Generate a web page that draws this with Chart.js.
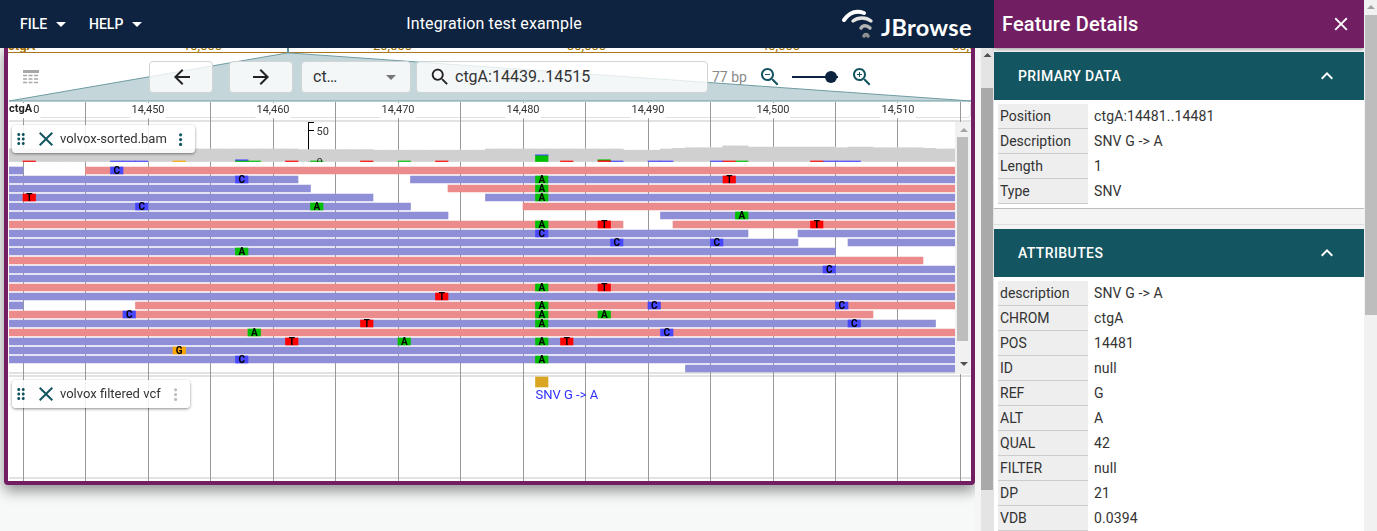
<!DOCTYPE html>
<html>
<head>
<meta charset="utf-8">
<title>JBrowse</title>
<script src="https://cdn.jsdelivr.net/npm/chart.js@4/dist/chart.umd.js"></script>
<style>
  html, body { margin: 0; padding: 0; width: 1377px; height: 531px; overflow: hidden; background: #f7f8f8; font-family: Roboto, sans-serif; color: #333; }
  .abs { position: absolute; }
  .abs svg, svg.abs { display: block; }
  #header { left: 0; top: 0; width: 994px; height: 48px; background: #0d233f; color: #fff; z-index: 5; }
  #view { left: 4px; top: 44px; width: 963px; height: 433px; background: #fff; border: 4px solid #721e63; border-radius: 4px; box-shadow: 0 6px 14px rgba(0,0,0,.42); }
  .ov { top: 38px; font-size: 13px; color: #a06e00; }
  .btn { background: rgba(255,255,255,.8); border: 1px solid #cfd4d5; border-radius: 4px; box-sizing: border-box; top: 61px; height: 32px; }
  .sep { left: 9px; width: 962px; height: 2px; background: #e2e2e2; }
  .card { background: rgba(255,255,255,.85); border-radius: 4px; box-shadow: 0 1px 3px rgba(0,0,0,.45); z-index: 3; font-size: 13px; line-height: 28px; height: 28px; }
  canvas { position: absolute; }
  .sect { left: 994px; width: 370px; height: 48px; background: #135560; color: #fff; font-size: 14px; font-weight: 500; letter-spacing: .4px; line-height: 48px; text-indent: 24px; }
  .k { left: 998px; width: 90px; height: 24px; background: #eee; border-bottom: 1px solid #ccc; font-size: 14px; line-height: 24px; text-indent: 2px; }
  .v { left: 1094px; height: 24px; font-size: 14px; line-height: 24px; letter-spacing: .12px; }
</style>
</head>
<body>
<div class="abs" id="view"></div>

<!-- overview strip -->
<div class="abs ov" style="left:8px;font-weight:700">ctgA</div>
<div class="abs ov" style="left:183px">10,000</div>
<div class="abs ov" style="left:373px">20,000</div>
<div class="abs ov" style="left:567px">30,000</div>
<div class="abs ov" style="left:761px">40,000</div>
<div class="abs ov" style="left:952px">50,000</div>
<div class="abs" style="left:8px;top:52px;width:963px;height:1px;background:#a9761a"></div>
<div class="abs" style="left:971px;top:48px;width:4px;height:6px;background:#721e63"></div>
<div class="abs" style="left:287px;top:47px;width:2px;height:6px;background:#5f9199"></div>
<svg class="abs" style="left:0;top:0" width="994" height="110">
  <polygon points="287,53 290,53 971,101 9,101" fill="#c4d6d9" stroke="#6f9ca3" stroke-width="1"/>
</svg>

<!-- toolbar -->
<svg class="abs" style="left:23px;top:70px" width="17" height="15">
  <rect x="0" y="0" width="16" height="3" fill="#a8a8a8"/>
  <path d="M0 5.5h16M0 9h16M0 12.5h16" stroke="#a8a8a8" stroke-width="1.4" stroke-dasharray="4 1.5"/>
</svg>
<div class="abs btn" style="left:149px;width:64px">
  <svg class="abs" style="left:19.5px;top:3px" width="24" height="24"><path fill="#222" d="M20 11H7.83l5.59-5.59L12 4l-8 8 8 8 1.41-1.41L7.83 13H20v-2z"/></svg>
</div>
<div class="abs btn" style="left:229px;width:64px">
  <svg class="abs" style="left:19px;top:3px" width="24" height="24"><path fill="#222" d="M12 4l-1.41 1.41L16.17 11H4v2h12.17l-5.58 5.59L12 20l8-8z"/></svg>
</div>
<div class="abs btn" style="left:301px;width:110px;font-size:16px;line-height:30px;text-indent:11px;color:#333">ct…
  <svg class="abs" style="left:77px;top:3px" width="24" height="24"><path fill="#777" d="M7 10l5 5 5-5z"/></svg>
</div>
<div class="abs btn" style="left:416px;width:292px;font-size:16px;line-height:30px;text-indent:38px;color:#333">ctgA:14439..14515
  <svg class="abs" style="left:11px;top:3px" width="24" height="24"><path fill="#222" transform="translate(1,1) scale(.92)" d="M15.5 14h-.79l-.28-.27C15.41 12.59 16 11.11 16 9.5 16 5.91 13.09 3 9.5 3S3 5.91 3 9.5 5.91 16 9.5 16c1.61 0 3.09-.59 4.23-1.57l.27.28v.79l5 4.99L20.49 19l-4.99-5zm-6 0C7.01 14 5 11.99 5 9.5S7.01 5 9.5 5 14 7.01 14 9.5 11.99 14 9.5 14z"/></svg>
</div>
<div class="abs" style="left:712px;top:68px;font-size:14px;line-height:18px;color:#8a8a8a">77 bp</div>
<svg class="abs" style="left:758px;top:65px" width="24" height="24"><path fill="#135560" d="M15.5 14h-.79l-.28-.27C15.41 12.59 16 11.11 16 9.5 16 5.91 13.09 3 9.5 3S3 5.91 3 9.5 5.91 16 9.5 16c1.61 0 3.09-.59 4.23-1.57l.27.28v.79l5 4.99L20.49 19l-4.99-5zm-6 0C7.01 14 5 11.99 5 9.5S7.01 5 9.5 5 14 7.01 14 9.5 11.99 14 9.5 14zM7 9h5v1H7z"/></svg>
<div class="abs" style="left:792px;top:76px;width:46px;height:2px;background:#0d233f"></div>
<div class="abs" style="left:825px;top:71px;width:12px;height:12px;border-radius:6px;background:#0d233f"></div>
<svg class="abs" style="left:850px;top:65px" width="24" height="24"><path fill="#135560" d="M15.5 14h-.79l-.28-.27C15.41 12.59 16 11.11 16 9.5 16 5.91 13.09 3 9.5 3S3 5.91 3 9.5 5.91 16 9.5 16c1.61 0 3.09-.59 4.23-1.57l.27.28v.79l5 4.99L20.49 19l-4.99-5zm-6 0C7.01 14 5 11.99 5 9.5S7.01 5 9.5 5 14 7.01 14 9.5 11.99 14 9.5 14zM12 10h-2v2H9v-2H7V9h2V7h1v2h2v1z"/></svg>

<!-- ruler box and track separators -->
<div class="abs" style="left:9px;top:102px;width:961px;height:15px;border-bottom:1px solid #e0e0e0;border-right:1px solid #e0e0e0;border-radius:0 4px 4px 0"></div>
<div class="abs sep" style="top:120px"></div>
<div class="abs sep" style="top:372px"></div>
<div class="abs sep" style="top:375px"></div>
<div class="abs sep" style="top:477px"></div>

<canvas id="pileup" style="left:9px;top:102px"></canvas>
<canvas id="coverage" style="left:9px;top:122px"></canvas>

<div class="abs" style="left:9px;top:103px;width:24px;height:13px;background:#fff;font-size:11px;font-weight:700;line-height:12px;color:#222;z-index:2">ctgA</div>

<!-- pileup scrollbar -->
<div class="abs" style="left:955px;top:122px;width:16px;height:252px;background:#f1f1f1;z-index:2"></div>
<div class="abs" style="left:957px;top:137px;width:11px;height:204px;background:#bdbdbd;z-index:2"></div>
<svg class="abs" style="left:955px;top:122px;z-index:2" width="16" height="252">
  <path d="M9 6l4 4H5z" fill="#a3a3a3"/><path d="M5 240h8l-4 4z" fill="#505050"/>
</svg>

<!-- track labels -->
<div class="abs card" style="left:12px;top:125px;width:183px">
  <svg class="abs" style="left:-2px;top:2px" width="24" height="24"><path fill="#135560" d="M11 18c0 1.1-.9 2-2 2s-2-.9-2-2 .9-2 2-2 2 .9 2 2zm-2-8c-1.1 0-2 .9-2 2s.9 2 2 2 2-.9 2-2-.9-2-2-2zm0-6c-1.1 0-2 .9-2 2s.9 2 2 2 2-.9 2-2-.9-2-2-2zm6 4c1.1 0 2-.9 2-2s-.9-2-2-2-2 .9-2 2 .9 2 2 2zm0 2c-1.1 0-2 .9-2 2s.9 2 2 2 2-.9 2-2-.9-2-2-2zm0 6c-1.1 0-2 .9-2 2s.9 2 2 2 2-.9 2-2-.9-2-2-2z" transform="translate(2,3) scale(.75)"/></svg>
  <svg class="abs" style="left:22px;top:2px" width="24" height="24"><path fill="#135560" d="M19 6.41L17.59 5 12 10.59 6.41 5 5 6.41 10.59 12 5 17.59 6.41 19 12 13.41 17.59 19 19 17.59 13.41 12z"/></svg>
  <span class="abs" style="left:48px;top:0;white-space:nowrap">volvox-sorted.bam</span>
  <svg class="abs" style="left:157px;top:2px" width="24" height="24"><path fill="#135560" transform="translate(2,3) scale(.8)" d="M12 8c1.1 0 2-.9 2-2s-.9-2-2-2-2 .9-2 2 .9 2 2 2zm0 2c-1.1 0-2 .9-2 2s.9 2 2 2 2-.9 2-2-.9-2-2-2zm0 6c-1.1 0-2 .9-2 2s.9 2 2 2 2-.9 2-2-.9-2-2-2z"/></svg>
</div>
<div class="abs card" style="left:12px;top:380px;width:178px">
  <svg class="abs" style="left:-2px;top:2px" width="24" height="24"><path fill="#135560" d="M11 18c0 1.1-.9 2-2 2s-2-.9-2-2 .9-2 2-2 2 .9 2 2zm-2-8c-1.1 0-2 .9-2 2s.9 2 2 2 2-.9 2-2-.9-2-2-2zm0-6c-1.1 0-2 .9-2 2s.9 2 2 2 2-.9 2-2-.9-2-2-2zm6 4c1.1 0 2-.9 2-2s-.9-2-2-2-2 .9-2 2 .9 2 2 2zm0 2c-1.1 0-2 .9-2 2s.9 2 2 2 2-.9 2-2-.9-2-2-2zm0 6c-1.1 0-2 .9-2 2s.9 2 2 2 2-.9 2-2-.9-2-2-2z" transform="translate(2,3) scale(.75)"/></svg>
  <svg class="abs" style="left:22px;top:2px" width="24" height="24"><path fill="#135560" d="M19 6.41L17.59 5 12 10.59 6.41 5 5 6.41 10.59 12 5 17.59 6.41 19 12 13.41 17.59 19 19 17.59 13.41 12z"/></svg>
  <span class="abs" style="left:48px;top:0;white-space:nowrap">volvox filtered vcf</span>
  <svg class="abs" style="left:152px;top:2px" width="24" height="24"><path fill="#bdbdbd" transform="translate(2,3) scale(.8)" d="M12 8c1.1 0 2-.9 2-2s-.9-2-2-2-2 .9-2 2 .9 2 2 2zm0 2c-1.1 0-2 .9-2 2s.9 2 2 2 2-.9 2-2-.9-2-2-2zm0 6c-1.1 0-2 .9-2 2s.9 2 2 2 2-.9 2-2-.9-2-2-2z"/></svg>
</div>

<!-- app header -->
<div class="abs" id="header">
  <div class="abs" style="left:20px;top:0;font-size:14px;font-weight:500;line-height:48px">FILE</div>
  <svg class="abs" style="left:49px;top:12px" width="24" height="24"><path fill="#fff" d="M7 10l5 5 5-5z"/></svg>
  <div class="abs" style="left:89px;top:0;font-size:14px;font-weight:500;line-height:48px">HELP</div>
  <svg class="abs" style="left:125px;top:12px" width="24" height="24"><path fill="#fff" d="M7 10l5 5 5-5z"/></svg>
  <div class="abs" style="left:350px;width:288px;top:0;text-align:center;font-size:16px;line-height:48px;letter-spacing:.13px">Integration test example</div>
  <svg class="abs" style="left:838px;top:6px" width="40" height="36" fill="none" stroke-linecap="round">
    <path d="M6 14 C 11 7, 18 4, 26 7" stroke="#fff" stroke-width="4"/>
    <path d="M15 15 C 20 11, 28 11, 33 15" stroke="#e4e4e4" stroke-width="3.4"/>
    <path d="M23 22 C 25 19, 29 19, 32 22" stroke="#b4b4b4" stroke-width="3.4"/>
    <path d="M26 30 C 27 28, 29 28, 30 30" stroke="#909090" stroke-width="3.6"/>
  </svg>
  <div class="abs" style="left:881px;top:0;font-family:Lato,sans-serif;font-weight:700;font-size:23.5px;line-height:54px;letter-spacing:.3px;color:#fff">JBrowse</div>
</div>

<!-- main scrollbar -->
<div class="abs" style="left:975px;top:48px;width:19px;height:483px;background:#f5f5f5"></div>
<div class="abs" style="left:981px;top:48px;width:13px;height:483px;background:#e4e4e4"></div>
<div class="abs" style="left:981px;top:88px;width:12px;height:402px;background:#a9a9a9"></div>
<svg class="abs" style="left:981px;top:48px" width="13" height="20"><path d="M6.5 5l4 4h-8z" fill="#505050"/></svg>

<!-- feature details panel -->
<div class="abs" style="left:994px;top:0;width:370px;height:531px;background:#fff"></div>
<div class="abs" style="left:994px;top:0;width:370px;height:48px;background:#721e63;box-shadow:0 2px 4px rgba(0,0,0,.35);color:#fff;font-size:20px;font-weight:500;line-height:48px;text-indent:8px;letter-spacing:.13px">Feature Details
  <svg class="abs" style="left:336px;top:13px" width="22" height="22"><path fill="#fff" transform="scale(.92)" d="M19 6.41L17.59 5 12 10.59 6.41 5 5 6.41 10.59 12 5 17.59 6.41 19 12 13.41 17.59 19 19 17.59 13.41 12z"/></svg>
</div>
<div class="abs sect" style="top:52px">PRIMARY DATA
  <svg class="abs" style="left:321px;top:12px" width="24" height="24"><path fill="#fff" d="M12 8l-6 6 1.41 1.41L12 10.83l4.59 4.58L18 14z"/></svg>
</div>
<div class="abs" style="left:994px;top:208px;width:370px;height:21px;background:#f4f4f4;border-top:1px solid #bdbdbd;box-sizing:border-box"></div>
<div class="abs" style="left:994px;top:224px;width:370px;height:1px;background:#dedede"></div>
<div class="abs sect" style="top:229px">ATTRIBUTES
  <svg class="abs" style="left:321px;top:12px" width="24" height="24"><path fill="#fff" d="M12 8l-6 6 1.41 1.41L12 10.83l4.59 4.58L18 14z"/></svg>
</div>
<div id="details"></div>
<div class="abs" style="left:1364px;top:0;width:13px;height:531px;background:#f1f1f1"></div>
<div class="abs" style="left:1365px;top:15px;width:12px;height:300px;background:#bdbdbd"></div>
<svg class="abs" style="left:1364px;top:0" width="13" height="14"><path d="M7 5l4 4H3z" fill="#a3a3a3"/></svg>

<script>
// detail panel rows
const primaryKeys = ['Position', 'Description', 'Length', 'Type'];
const primaryVals = ['ctgA:14481..14481', 'SNV G -> A', '1', 'SNV'];
const attrKeys = ['description', 'CHROM', 'POS', 'ID', 'REF', 'ALT', 'QUAL', 'FILTER', 'DP', 'VDB'];
const attrVals = ['SNV G -> A', 'ctgA', '14481', 'null', 'G', 'A', '42', 'null', '21', '0.0394'];

// reads as [row, start, end]
const blueReads = [
  [0, 14438, 14440], [1, 14438, 14462], [1, 14471, 14520], [2, 14438, 14463],
  [3, 14438, 14468], [3, 14477, 14520], [4, 14438, 14471], [5, 14438, 14474],
  [5, 14491, 14520], [7, 14438, 14498], [7, 14502, 14520], [8, 14438, 14502],
  [8, 14506, 14520], [9, 14438, 14505], [11, 14438, 14520], [12, 14438, 14520],
  [14, 14438, 14520], [15, 14438, 14440], [17, 14438, 14513], [19, 14438, 14520],
  [20, 14438, 14520], [21, 14438, 14520], [22, 14493, 14520]
];
const redReads = [
  [0, 14445, 14520], [2, 14474, 14520], [4, 14480, 14520], [6, 14438, 14488],
  [6, 14492, 14520], [10, 14438, 14512], [13, 14438, 14520], [15, 14449, 14520],
  [16, 14438, 14508], [18, 14438, 14520]
];

// mismatched bases as [row, position]
const mismatchA = [
  [1, 14481], [2, 14481], [3, 14481], [4, 14463], [5, 14497], [6, 14481], [9, 14457],
  [13, 14481], [15, 14481], [16, 14481], [16, 14486], [17, 14481], [18, 14458],
  [19, 14470], [19, 14481], [21, 14481]
];
const mismatchC = [
  [0, 14447], [1, 14457], [4, 14449], [7, 14481], [8, 14487], [8, 14495], [11, 14504],
  [15, 14490], [15, 14505], [16, 14448], [17, 14506], [18, 14491], [21, 14457]
];
const mismatchT = [
  [1, 14496], [3, 14440], [6, 14486], [6, 14503], [13, 14486], [14, 14473], [17, 14467],
  [19, 14461], [19, 14483]
];
const mismatchG = [[20, 14452]];

// read depth per base, 14438..14515
const depthStart = 14438;
const depth = [
  21, 21, 21, 21, 21, 21, 21, 21, 21, 21, 21, 21, 21, 21, 21, 21, 21, 21, 21, 21, 21, 21, 21, 21,
  20, 20, 20, 20, 20, 20,
  19, 19, 19, 19, 19, 19, 19, 19, 19,
  21, 21, 21, 21, 21, 21, 21, 21, 21, 21, 21,
  19, 19, 19,
  21, 22, 23, 23, 23, 26, 26, 24, 24, 24, 24, 24, 24, 24, 23, 24, 24, 23, 23, 23, 23, 22, 21, 21, 21
];
// non-reference counts per base, [position, count]
const snpCountT = [[14440, 1], [14461, 1], [14467, 1], [14473, 1], [14483, 1], [14486, 2], [14496, 1], [14503, 1]];
const snpCountA = [[14457, 1], [14458, 1], [14463, 1], [14470, 1], [14481, 10], [14486, 1], [14497, 1]];
const snpCountC = [
  [14447, 1], [14448, 1], [14449, 1], [14457, 2], [14481, 1], [14487, 1], [14490, 1], [14491, 1],
  [14495, 1], [14504, 1], [14505, 1], [14506, 1]
];
const snpCountG = [[14452, 1]];

// the one variant in the vcf track
const variantPos = 14481;
const variantRow = 23.5;
const variantLabel = 'SNV G -> A';

const coverageTicks = [0, 50];

const viewMin = 14438.88;
const viewMax = 14515.84;

const RED = '#ec8b8b', BLUE = '#8f8fd8';
const BASE_COLORS = { A: '#00bf00', C: '#4747ff', T: '#ff0000', G: '#ffa500' };

function addRows(keys, vals, top) {
  const box = document.getElementById('details');
  keys.forEach(function (k, i) {
    const y = top + i * 25;
    box.insertAdjacentHTML('beforeend',
      '<div class="abs k" style="top:' + y + 'px">' + k + '</div>' +
      '<div class="abs v" style="top:' + y + 'px">' + vals[i].replace('>', '&gt;') + '</div>');
  });
}
addRows(primaryKeys, primaryVals, 104);
addRows(attrKeys, attrVals, 281);

Chart.defaults.font.family = 'Roboto';
Chart.defaults.animation = false;
Chart.defaults.responsive = false;
Chart.defaults.plugins.legend.display = false;
Chart.defaults.plugins.tooltip.enabled = false;

function readBars(list) {
  return list.map(function (r) { return { x: [r[1], r[2]], y: r[0] }; });
}
function baseBars(list) {
  return list.map(function (m) { return { x: [m[1], m[1] + 1], y: m[0] }; });
}
function barSet(label, data, color, extra) {
  return Object.assign({ label: label, data: data, backgroundColor: color, barThickness: 7, grouped: false, borderWidth: 0 }, extra);
}

// letters inside the mismatch boxes, and the variant name under its box
const baseLetters = {
  id: 'baseLetters',
  afterDatasetsDraw(chart) {
    const ctx = chart.ctx, xs = chart.scales.x, ys = chart.scales.y;
    ctx.save();
    ctx.textAlign = 'center';
    ctx.textBaseline = 'middle';
    ctx.font = 'bold 10px Roboto';
    ctx.fillStyle = '#000';
    chart.data.datasets.forEach(function (ds) {
      if (!ds.letter) return;
      ds.data.forEach(function (d) {
        ctx.fillText(ds.label, xs.getPixelForValue(d.x[0] + 0.5), ys.getPixelForValue(d.y) + 1);
      });
    });
    ctx.textAlign = 'left';
    ctx.textBaseline = 'top';
    ctx.font = '13px Roboto';
    ctx.fillStyle = '#2f2fff';
    ctx.fillText(variantLabel, xs.getPixelForValue(variantPos), ys.getPixelForValue(variantRow) + 7);
    ctx.restore();
  }
};

const pileupEl = document.getElementById('pileup');
pileupEl.width = 962;
pileupEl.height = 379;
new Chart(pileupEl, {
  type: 'bar',
  data: {
    datasets: [
      barSet('A', baseBars(mismatchA), BASE_COLORS.A, { letter: true }),
      barSet('C', baseBars(mismatchC), BASE_COLORS.C, { letter: true }),
      barSet('T', baseBars(mismatchT), BASE_COLORS.T, { letter: true }),
      barSet('G', baseBars(mismatchG), BASE_COLORS.G, { letter: true }),
      barSet('blue', readBars(blueReads), BLUE),
      barSet('red', readBars(redReads), RED),
      barSet('variant', [{ x: [variantPos, variantPos + 1], y: variantRow }], '#daa520', { barThickness: 10 })
    ]
  },
  options: {
    indexAxis: 'y',
    layout: { padding: 0 },
    scales: {
      x: {
        type: 'linear',
        position: 'top',
        min: viewMin,
        max: viewMax,
        afterFit(axis) { axis.height = 0; axis.paddingLeft = 0; axis.paddingRight = 0; },
        border: { display: false },
        grid: { color: '#999', lineWidth: 1, drawTicks: false },
        ticks: {
          stepSize: 5,
          includeBounds: false,
          autoSkip: false,
          maxRotation: 0,
          mirror: true,
          padding: 2,
          color: '#333',
          font: { size: 11 },
          showLabelBackdrop: ctx => ctx.tick.value % 10 === 0,
          backdropColor: '#fff',
          backdropPadding: 1,
          callback: v => (v % 10 === 0 ? v.toLocaleString('en-US') : '')
        }
      },
      y: { type: 'linear', display: false, offset: false, reverse: true, min: -7.611, max: 34.5 }
    }
  },
  plugins: [baseLetters]
});

function depthBars() {
  return depth.map(function (d, i) { return { x: depthStart + i + 0.5, y: d }; });
}
function snpBars(list) {
  return list.map(function (s) { return { x: s[0] + 0.5, y: s[1] }; });
}
function covSet(label, data, color, stack, extra) {
  return Object.assign({ label: label, data: data, backgroundColor: color, stack: stack, barThickness: 12.5, grouped: false, borderWidth: 0 }, extra);
}

// numbers beside the coverage axis
const coverageLabels = {
  id: 'coverageLabels',
  afterDraw(chart) {
    const ctx = chart.ctx, ya = chart.scales.y, xa = chart.scales.x;
    ctx.save();
    ctx.font = '11px Roboto';
    ctx.fillStyle = '#333';
    ctx.textBaseline = 'middle';
    coverageTicks.forEach(function (t) {
      ctx.fillText(String(t), xa.getPixelForValue(14462.84) + 8, ya.getPixelForValue(t) + 1);
    });
    ctx.restore();
  }
};

const coverageEl = document.getElementById('coverage');
coverageEl.width = 962;
coverageEl.height = 40;
new Chart(coverageEl, {
  type: 'bar',
  data: {
    datasets: [
      covSet('T', snpBars(snpCountT), BASE_COLORS.T, 'snp', { minBarLength: 1, order: 0 }),
      covSet('A', snpBars(snpCountA), BASE_COLORS.A, 'snp', { minBarLength: 1, order: 0 }),
      covSet('C', snpBars(snpCountC), BASE_COLORS.C, 'snp', { minBarLength: 1, order: 0 }),
      covSet('G', snpBars(snpCountG), BASE_COLORS.G, 'snp', { minBarLength: 1, order: 0 }),
      // slightly wider than a base so neighbouring bars leave no seam
      covSet('depth', depthBars(), '#d0d0d0', 'depth', { order: 5, barThickness: 13 })
    ]
  },
  options: {
    layout: { padding: 0 },
    scales: {
      x: { type: 'linear', display: false, offset: false, min: viewMin, max: viewMax, stacked: true },
      y: {
        type: 'linear',
        min: 0,
        max: 64.5,
        stacked: true,
        position: { x: 14462.84 },
        afterBuildTicks(axis) { axis.ticks = [{ value: 0 }, { value: 50 }, { value: 64.5 }]; },
        border: { display: true, color: '#000' },
        grid: { drawOnChartArea: false, drawTicks: true, tickLength: -6, color: '#000' },
        ticks: { display: false }
      }
    }
  },
  plugins: [coverageLabels]
});
</script>
</body>
</html>
